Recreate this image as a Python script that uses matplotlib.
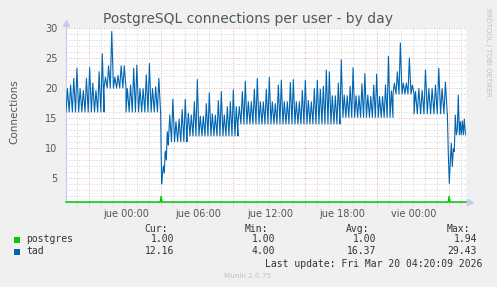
import numpy as np
import matplotlib
matplotlib.use("Agg")
import matplotlib.pyplot as plt
from matplotlib.patches import Rectangle

# ---------------- data (hours relative to Thu 00:00) ----------------
x_tick_pos = [0, 6, 12, 18, 24]
x_tick_labels = ["jue 00:00", "jue 06:00", "jue 12:00", "jue 18:00", "vie 00:00"]
y_tick_pos = [5, 10, 15, 20, 25, 30]

# tad: segments of regular spikes (start hour, end hour, base level, peak values)
seg_start = [-5.0, -1.83, 0.0, 3.53, 5.08, 9.33, 17.83, 22.25, 24.0]
seg_end = [-1.83, 0.0, 2.88, 5.08, 9.33, 17.83, 22.25, 24.0, 26.77]
seg_base = [16.0, 20.0, 16.0, 11.05, 12.0, 14.0, 15.1, 19.0, 15.7]
seg_peaks = [
    [19.9, 20.5, 21.6, 23.3, 19.9, 19.6, 21.6, 23.4, 20.8, 19.6, 22.7, 25.7],
    [21.8, 23.7, 29.43, 21.8, 22.1, 23.7, 23.7],
    [19.9, 20.5, 23.3, 23.8, 19.9, 19.9, 22.2, 24.1, 19.9, 20.2, 21.6],
    [15.5, 18.1, 14.4, 14.8, 16.4, 18.1],
    [15.8, 15.5, 17.7, 21.4, 15.3, 15.3, 17.4, 19.2, 15.7, 15.5, 17.9, 19.4,
     15.5, 16.9, 17.7, 19.7, 16.9],
    [16.9, 19.4, 21.1, 17.7, 17.7, 19.8, 21.6, 17.7, 17.7, 19.8, 21.8, 17.7,
     17.4, 20.5, 21.3, 17.7, 17.7, 20.9, 21.4, 17.7, 17.7, 19.6, 21.3, 17.9,
     17.7, 19.9, 21.3, 19.8, 20.3, 23.0, 22.7, 18.7, 18.7, 20.8],
    [24.7, 18.8, 18.7, 20.3, 23.4, 18.7, 18.7, 20.7, 22.4, 18.8, 18.6, 20.5,
     22.3, 18.6, 18.6, 20.5, 25.3, 19.5],
    [20.8, 22.7, 27.5, 20.8, 20.8, 25.0, 20.5],
    [19.4, 19.9, 19.6, 23.0, 19.9, 19.9, 20.5, 23.3, 19.9, 21.0],
]
# tad: the two drops (explicit samples)
drop1_t = [2.89, 2.93, 2.97, 3.03, 3.11, 3.19, 3.27, 3.36, 3.44, 3.53]
drop1_v = [16.0, 9.0, 4.0, 5.5, 7.0, 5.8, 9.5, 8.0, 12.7, 10.5]
drop2_t = [26.78, 26.86, 26.94, 27.03, 27.11, 27.19, 27.28, 27.36, 27.44,
           27.53, 27.61, 27.69, 27.78, 27.86, 27.94, 28.03, 28.11, 28.19,
           28.28, 28.33]
drop2_v = [15.7, 9.0, 4.1, 8.0, 10.8, 6.9, 9.9, 9.4, 15.5, 12.2, 13.0, 18.8,
           12.2, 14.4, 12.2, 14.5, 12.2, 14.8, 12.4, 12.16]

# postgres
pg_t = [-5.0, 2.86, 2.93, 3.0, 26.86, 26.93, 27.0, 28.33]
pg_v = [1.0, 1.0, 1.94, 1.0, 1.0, 1.94, 1.0, 1.0]

legend_names = ["postgres", "tad"]
legend_cur = ["1.00", "12.16"]
legend_min = ["1.00", "4.00"]
legend_avg = ["1.00", "16.37"]
legend_max = ["1.94", "29.43"]
colors = ["#00CC00", "#0066B3"]

# ---------------- build tad polyline ----------------
tad_t, tad_v = [], []
def add_segment(s, e, b, pk):
    n = len(pk)
    w = (e - s) / n
    for i, p in enumerate(pk):
        t0 = s + i * w
        tad_t.extend([t0, t0 + w * 0.45])
        tad_v.extend([b, p])
    tad_t.append(e)
    tad_v.append(b)

for i in range(3):
    add_segment(seg_start[i], seg_end[i], seg_base[i], seg_peaks[i])
tad_t.extend(drop1_t); tad_v.extend(drop1_v)
for i in range(3, len(seg_start)):
    add_segment(seg_start[i], seg_end[i], seg_base[i], seg_peaks[i])
tad_t.extend(drop2_t); tad_v.extend(drop2_v)

# ---------------- figure ----------------
W, H = 497, 287
fig = plt.figure(figsize=(W / 100, H / 100), dpi=100, facecolor="#F0F0F0")
L, R, T, B = 66, 466, 28, 202
ax = fig.add_axes([L / W, 1 - B / H, (R - L) / W, (B - T) / H])
ax.set_facecolor("white")
xmin, xmax = -5.0, 28.333
ymin, ymax = 1.0, 30.0
ax.set_xlim(xmin, xmax)
ax.set_ylim(ymin, ymax)

for s in ax.spines.values():
    s.set_visible(False)

# grid
minor_col = "#C4C4C4"
major_col = "#E49494"
for yv in range(2, 30):
    if yv % 5:
        ax.axhline(yv, color=minor_col, lw=0.6, ls=(0, (1, 2)), zorder=1)
for yv in y_tick_pos:
    ax.axhline(yv, color=major_col, lw=0.6, ls=(0, (1, 2)), zorder=1)
off = -0.07
for k in range(-5, 30):
    xv = k + off
    if xmin < xv < xmax:
        is_major = ((k + 3) % 6 == 0)
        ax.axvline(xv, ymin=-0.025, ymax=1, color=major_col if is_major else minor_col,
                   lw=0.6, ls=(0, (1, 2)), zorder=1, clip_on=False)

# axes lines with arrows
axis_col = "#C8C8F0"
ax.plot([xmin, xmin], [ymin, ymax + 0.8], color=axis_col, lw=0.8, clip_on=False, zorder=2)
ax.plot([xmin, xmax + 0.3], [ymin, ymin], color=axis_col, lw=0.8, clip_on=False, zorder=2)
ax.plot([xmin], [ymax + 0.9], marker="^", color=axis_col, ms=4, clip_on=False, zorder=2)
ax.plot([xmax + 0.35], [ymin], marker=">", color=axis_col, ms=4, clip_on=False, zorder=2)

# data
ax.plot(tad_t, tad_v, color=colors[1], lw=0.8, zorder=3)
ax.plot(pg_t, pg_v, color=colors[0], lw=1.1, zorder=4, clip_on=False)

# ticks
ax.set_xticks(x_tick_pos)
ax.set_xticklabels(x_tick_labels)
ax.set_yticks(y_tick_pos)
ax.set_yticklabels([str(v) for v in y_tick_pos])
ax.tick_params(axis="both", length=0, labelsize=7, labelcolor="#555555")
ax.tick_params(axis="x", pad=5)
ax.tick_params(axis="y", pad=6)

# texts
fig.text(248 / W, 1 - 19 / H, "PostgreSQL connections per user - by day",
         ha="center", va="center", fontsize=10, color="#555555")
fig.text(14 / W, 1 - 112 / H, "Connections", rotation=90, ha="center", va="center",
         fontsize=7.5, color="#555555")
fig.text(488 / W, 1 - 52 / H, "RRDTOOL / TOBI OETIKER", rotation=270, ha="center",
         va="center", fontsize=5, color="#C0C0C0")

mono = "DejaVu Sans Mono"
fs = 7
tc = "#333333"
col_x = [168, 268.5, 369, 470]
val_x = [174, 275, 376, 477]
for cx, lab in zip(col_x, ["Cur:", "Min:", "Avg:", "Max:"]):
    fig.text(cx / W, 1 - 228.5 / H, lab, ha="right", va="center", family=mono, fontsize=fs, color=tc)
rows_y = [239.5, 251.5]
for i, name in enumerate(legend_names):
    yy = 1 - rows_y[i] / H
    fig.patches.append(Rectangle((14 / W, yy - 3 / H), 6 / W, 6 / H, transform=fig.transFigure,
                                 facecolor=colors[i], edgecolor="none"))
    fig.text(26.5 / W, yy, name, ha="left", va="center", family=mono, fontsize=fs, color=tc)
    for vx, vals in zip(val_x, [legend_cur, legend_min, legend_avg, legend_max]):
        fig.text(vx / W, yy, vals[i], ha="right", va="center", family=mono, fontsize=fs, color=tc)
fig.text(482.5 / W, 1 - 264 / H, "Last update: Fri Mar 20 04:20:09 2026", ha="right",
         va="center", family=mono, fontsize=fs, color=tc)
fig.text(248 / W, 1 - 276 / H, "Munin 2.0.75", ha="center", va="center",
         fontsize=5.2, color="#C0C0C0")

fig.savefig("out.png", dpi=100, facecolor=fig.get_facecolor())
